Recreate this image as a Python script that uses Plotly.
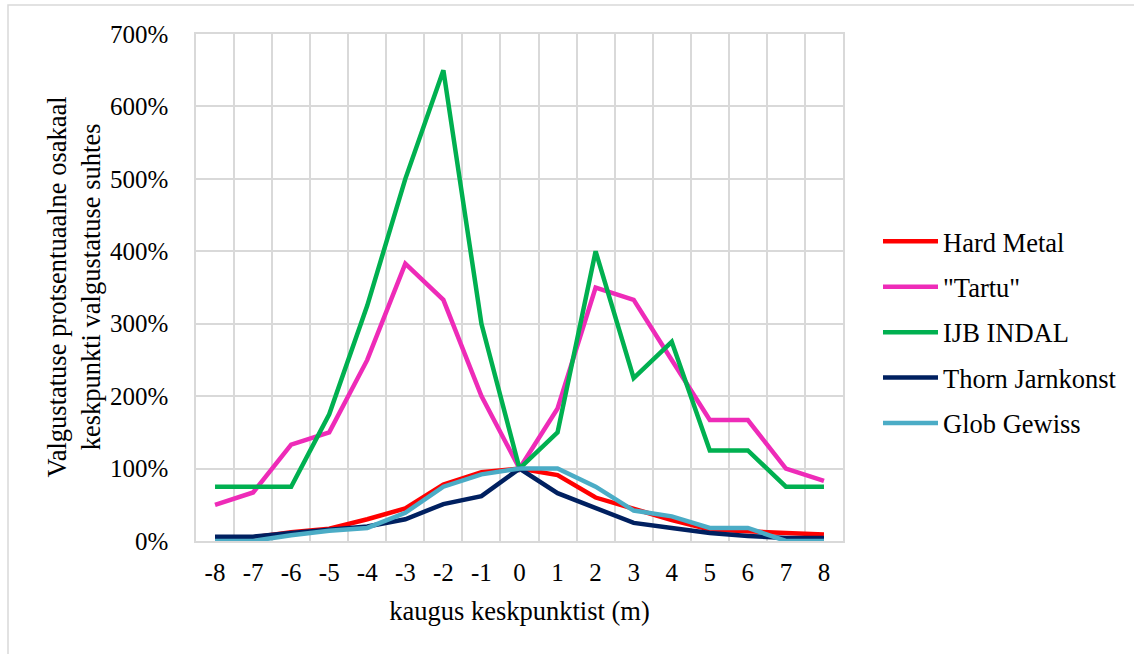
import plotly.graph_objects as go

# Distance from the centre point (m)
distances = ["-8", "-7", "-6", "-5", "-4", "-3", "-2", "-1", "0",
             "1", "2", "3", "4", "5", "6", "7", "8"]

# Illuminance as a share of the centre-point illuminance (%)
hard_metal = [5, 5, 12, 17, 30, 45, 78, 95, 100, 91, 60, 45, 29, 16, 13, 11, 9]
tartu = [50, 67, 133, 150, 250, 383, 333, 200, 100, 183, 350, 333, 250, 167, 167, 100, 83]
ijb_indal = [75, 75, 75, 175, 325, 500, 650, 300, 100, 150, 400, 225, 275, 125, 125, 75, 75]
thorn_jarnkonst = [6, 6, 11, 15, 20, 30, 51, 62, 100, 66, 45, 25, 18, 11, 7, 4, 4]
glob_gewiss = [0, 0, 8, 14, 18, 39, 75, 92, 100, 100, 75, 42, 34, 18, 18, 0, 0]

series = [
    ("Hard Metal", hard_metal, "#FF0000"),
    ('"Tartu"', tartu, "#EE2BB8"),
    ("IJB INDAL", ijb_indal, "#00B050"),
    ("Thorn Jarnkonst", thorn_jarnkonst, "#002060"),
    ("Glob Gewiss", glob_gewiss, "#4BACC6"),
]

FONT = "Liberation Serif"
GRID = "#D9D9D9"
TICK_SIZE = 25
TEXT_SIZE = 26.5

fig = go.Figure()
for i, (name, vals, color) in enumerate(series):
    fig.add_trace(go.Scatter(
        x=distances, y=vals, name=name, mode="lines",
        line=dict(color=color, width=4.5),
        legendgroup=str(i),
    ))

L, R, T, B = 196, 1134 - 843, 34, 654 - 541
W, H = 1134, 654
PW, PH = W - L - R, H - T - B

fig.update_layout(
    width=W, height=H,
    margin=dict(l=L, r=R, t=T, b=B),
    paper_bgcolor="white", plot_bgcolor="white",
    font=dict(family=FONT, size=TICK_SIZE, color="black"),
    showlegend=True,
    legend=dict(
        x=(878 - L) / PW, y=(541 - 332.5) / PH, xanchor="left", yanchor="middle",
        font=dict(family=FONT, size=TEXT_SIZE), itemwidth=55, tracegroupgap=8,
        bgcolor="rgba(0,0,0,0)",
    ),
    xaxis=dict(
        type="category", tickson="boundaries", range=[-0.5, 16.5],
        showgrid=True, gridcolor=GRID, gridwidth=1.5,
        showline=True, linecolor=GRID, linewidth=1.5, mirror=True,
        ticks="", ticklabelstandoff=8,
        title=dict(text="kaugus keskpunktist (m)", standoff=17,
                   font=dict(family=FONT, size=TEXT_SIZE)),
    ),
    yaxis=dict(
        range=[0, 700], dtick=100, ticksuffix="%",
        showgrid=True, gridcolor=GRID, gridwidth=1.5,
        showline=True, linecolor=GRID, linewidth=1.5, mirror=True,
        zeroline=False, ticks="", ticklabelstandoff=21,
    ),
)

# Two-line rotated y-axis title
fig.add_annotation(
    text="Valgustatuse protsentuaalne osakaal<br>keskpunkti valgustatuse suhtes",
    xref="paper", yref="paper",
    x=(73 - L) / PW, y=0.5, xanchor="center", yanchor="middle",
    textangle=-90, showarrow=False, font=dict(family=FONT, size=TEXT_SIZE),
)

# Light grey chart-area border
fig.add_shape(
    type="rect", xref="paper", yref="paper",
    x0=(8 - L) / PW, x1=1.6,
    y0=-0.5, y1=(541 - 5) / PH,
    line=dict(color=GRID, width=1.5), fillcolor="rgba(0,0,0,0)", layer="below",
)

fig.write_html("out.html")
